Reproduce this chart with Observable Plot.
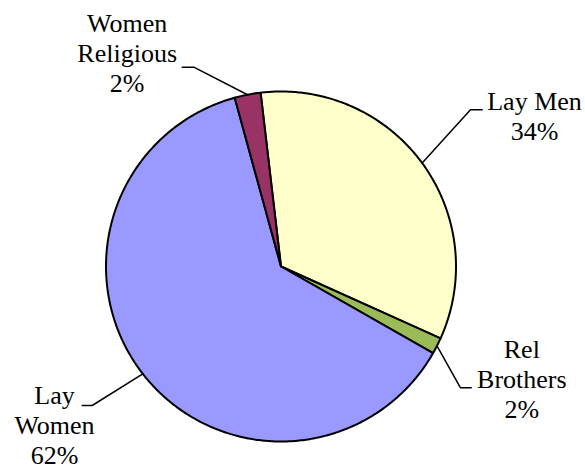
<!DOCTYPE html>
<html><head><meta charset="utf-8">
<script src="https://cdn.jsdelivr.net/npm/d3@7"></script>
<script src="https://cdn.jsdelivr.net/npm/@observablehq/plot@0.6"></script>
<style>body{margin:0;background:#fff}#chart svg{display:block}</style>
</head><body><div id="chart"></div>
<script>
// ---- data ----
const categories = ["Lay Men", "Rel Brothers", "Lay Women", "Women Religious"];
const values = [33.6, 1.5, 62.5, 2.4];
const valueLabels = ["34%", "2%", "62%", "2%"];
const nameLines = [["Lay Men"], ["Rel", "Brothers"], ["Lay", "Women"], ["Women", "Religious"]];
const colors = ["#FFFFCC", "#9BBB59", "#9999FF", "#993366"];

// ---- layout (pixels) ----
const W = 585, H = 471, cx = 280.5, cy = 266, R = 175;
const startDeg = -6.7;
const labelLayout = [
  {tx: 534, ty: 139, elbow: [[481.7, 109.3], [470, 109.3]]},
  {tx: 521.3, ty: 417, elbow: [[470.7, 387.3], [460, 387.3]]},
  {tx: 54, ty: 463, elbow: [[81.7, 405], [91.7, 405]]},
  {tx: 126.7, ty: 91, elbow: [[181.7, 66.7], [193.3, 66.7]]}
];
const ux = px => (px - cx) / R;
const uy = py => (cy - py) / R;

const a0 = startDeg * Math.PI / 180;
const arcs = d3.pie().sort(null).value(d => d).startAngle(a0).endAngle(a0 + 2 * Math.PI)(values);

const slicePts = [];
arcs.forEach((a, i) => {
  const key = categories[i];
  slicePts.push({key, x: 0, y: 0});
  const n = Math.max(2, Math.ceil((a.endAngle - a.startAngle) / 0.01) + 1);
  for (let k = 0; k < n; k++) {
    const t = a.startAngle + (a.endAngle - a.startAngle) * k / (n - 1);
    slicePts.push({key, x: Math.sin(t), y: Math.cos(t)});
  }
  slicePts.push({key, x: 0, y: 0});
});

const leaderPts = [];
const labels = [];
arcs.forEach((a, i) => {
  const key = categories[i];
  const L = labelLayout[i];
  const mid = (a.startAngle + a.endAngle) / 2;
  L.elbow.forEach(([px, py]) => leaderPts.push({key, x: ux(px), y: uy(py)}));
  leaderPts.push({key, x: Math.sin(mid), y: Math.cos(mid)});
  labels.push({key, x: ux(L.tx), y: uy(L.ty), text: [...nameLines[i], valueLabels[i]].join("\n")});
});

const chart = Plot.plot({
  width: W, height: H,
  marginLeft: cx - R, marginRight: W - (cx + R),
  marginTop: cy - R, marginBottom: H - (cy + R),
  x: {domain: [-1, 1], axis: null},
  y: {domain: [-1, 1], axis: null},
  color: {domain: categories, range: colors},
  style: {background: "#fff"},
  marks: [
    Plot.line(slicePts, {x: "x", y: "y", z: "key", fill: "key", stroke: "black", strokeWidth: 2, strokeLinejoin: "round", curve: "linear"}),
    Plot.line(leaderPts, {x: "x", y: "y", z: "key", stroke: "black", strokeWidth: 1.5, curve: "linear"}),
    Plot.text(labels, {x: "x", y: "y", text: "text", textAnchor: "middle", lineAnchor: "bottom", lineHeight: 1.15,
      fontSize: 26, fontFamily: "'Liberation Serif', 'Times New Roman', serif", fill: "black"})
  ]
});
document.getElementById("chart").appendChild(chart);
</script>
</body></html>
